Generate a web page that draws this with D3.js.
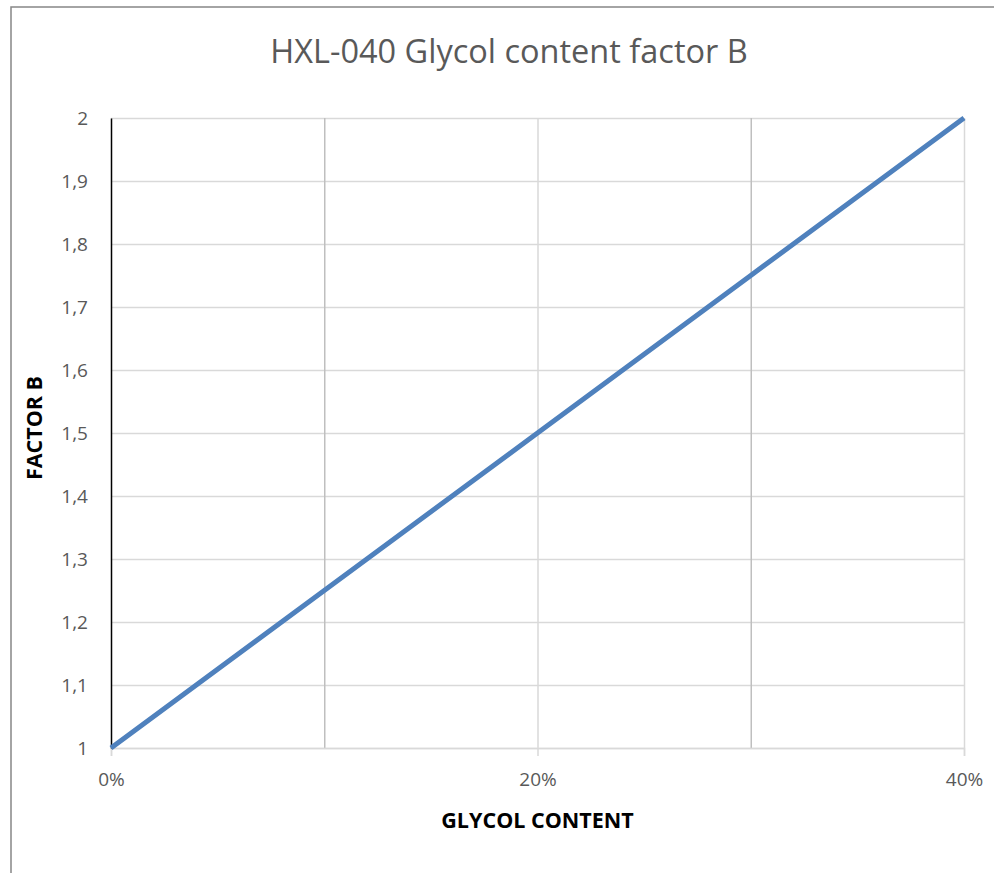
<!DOCTYPE html>
<html>
<head>
<meta charset="utf-8">
<script src="https://cdn.jsdelivr.net/npm/d3@7"></script>
<style>
  html, body { margin: 0; padding: 0; background: #fff; }
  svg { display: block; }
</style>
</head>
<body>
<svg id="chart" width="994" height="873"></svg>
<script>
// Glycol content (fraction) vs. factor B
const glycolContent = [0, 0.1, 0.2, 0.3, 0.4];
const factorB = [1, 1.25, 1.5, 1.75, 2];
const xTickValues = [0, 0.2, 0.4];
const xGridValues = [0.1, 0.2, 0.3, 0.4];
const yTickValues = [1, 1.1, 1.2, 1.3, 1.4, 1.5, 1.6, 1.7, 1.8, 1.9, 2];

const titleText = "HXL-040 Glycol content factor B";
const xTitle = "GLYCOL CONTENT";
const yTitle = "FACTOR B";

const W = 994, H = 873;
const font = "'Open Sans', 'Noto Sans', sans-serif";

const svg = d3.select("#chart");

// chart frame (continues past the visible page edges)
svg.append("rect")
  .attr("x", 11).attr("y", 7)
  .attr("width", W + 20).attr("height", H + 20)
  .attr("fill", "#fff")
  .attr("stroke", "#878787").attr("stroke-width", 1.5);

const x = d3.scaleLinear().domain([0, 0.4]).range([111, 964]);
const y = d3.scaleLinear().domain([1, 2]).range([748, 118]);

// horizontal gridlines
svg.append("g")
  .attr("transform", `translate(${x(0)},0)`)
  .call(d3.axisLeft(y).tickValues(yTickValues).tickSize(-(x(0.4) - x(0))).tickFormat(""))
  .call(g => g.select(".domain").remove())
  .call(g => g.selectAll(".tick line").attr("stroke", "#d9d9d9").attr("stroke-width", 1.5));

// vertical gridlines
svg.append("g")
  .attr("transform", `translate(0,${y(1)})`)
  .call(d3.axisBottom(x).tickValues(xGridValues).tickSize(-(y(1) - y(2))).tickFormat(""))
  .call(g => g.select(".domain").remove())
  .call(g => g.selectAll(".tick line")
    .attr("stroke", d => (Math.round(d * 100) % 20 === 0) ? "#d9d9d9" : "#bfbfbf")
    .attr("stroke-width", 1.5));

// x axis: baseline, outside tick marks and labels
const xAxis = svg.append("g")
  .attr("transform", `translate(0,${y(1)})`)
  .call(d3.axisBottom(x).tickValues(xTickValues).tickSize(8).tickPadding(17)
    .tickFormat(d3.format(".0%")));
xAxis.select(".domain").attr("stroke", "#d9d9d9").attr("stroke-width", 1.5);
xAxis.selectAll(".tick line").attr("stroke", "#d9d9d9").attr("stroke-width", 1.5);
xAxis.selectAll(".tick text")
  .attr("fill", "#595959").attr("font-family", font).attr("font-size", 19);

// y axis: black spine and labels
const yAxis = svg.append("g")
  .attr("transform", `translate(${x(0)},0)`)
  .call(d3.axisLeft(y).tickValues(yTickValues).tickSize(0).tickPadding(23)
    .tickFormat(d => d3.format(".1~f")(d).replace(".", ",")));
yAxis.select(".domain").attr("stroke", "#000").attr("stroke-width", 1.5);
yAxis.selectAll(".tick text")
  .attr("fill", "#595959").attr("font-family", font).attr("font-size", 19);

// data line
const line = d3.line()
  .x((d, i) => x(glycolContent[i]))
  .y(d => y(d));
svg.append("path")
  .datum(factorB)
  .attr("d", line)
  .attr("fill", "none")
  .attr("stroke", "#4f81bd")
  .attr("stroke-width", 5)
  .attr("stroke-linecap", "butt");

// titles
svg.append("text")
  .attr("x", 509).attr("y", 63)
  .attr("text-anchor", "middle")
  .attr("fill", "#595959")
  .attr("font-family", font).attr("font-size", 32.5)
  .text(titleText);

svg.append("text")
  .attr("x", (x(0) + x(0.4)) / 2).attr("y", 828)
  .attr("text-anchor", "middle")
  .attr("fill", "#000").attr("font-weight", "bold")
  .attr("font-family", font).attr("font-size", 21.5)
  .text(xTitle);

svg.append("text")
  .attr("transform", `translate(42,${(y(1) + y(2)) / 2 - 5}) rotate(-90)`)
  .attr("text-anchor", "middle")
  .attr("fill", "#000").attr("font-weight", "bold")
  .attr("font-family", font).attr("font-size", 21.5)
  .text(yTitle);
</script>
</body>
</html>
